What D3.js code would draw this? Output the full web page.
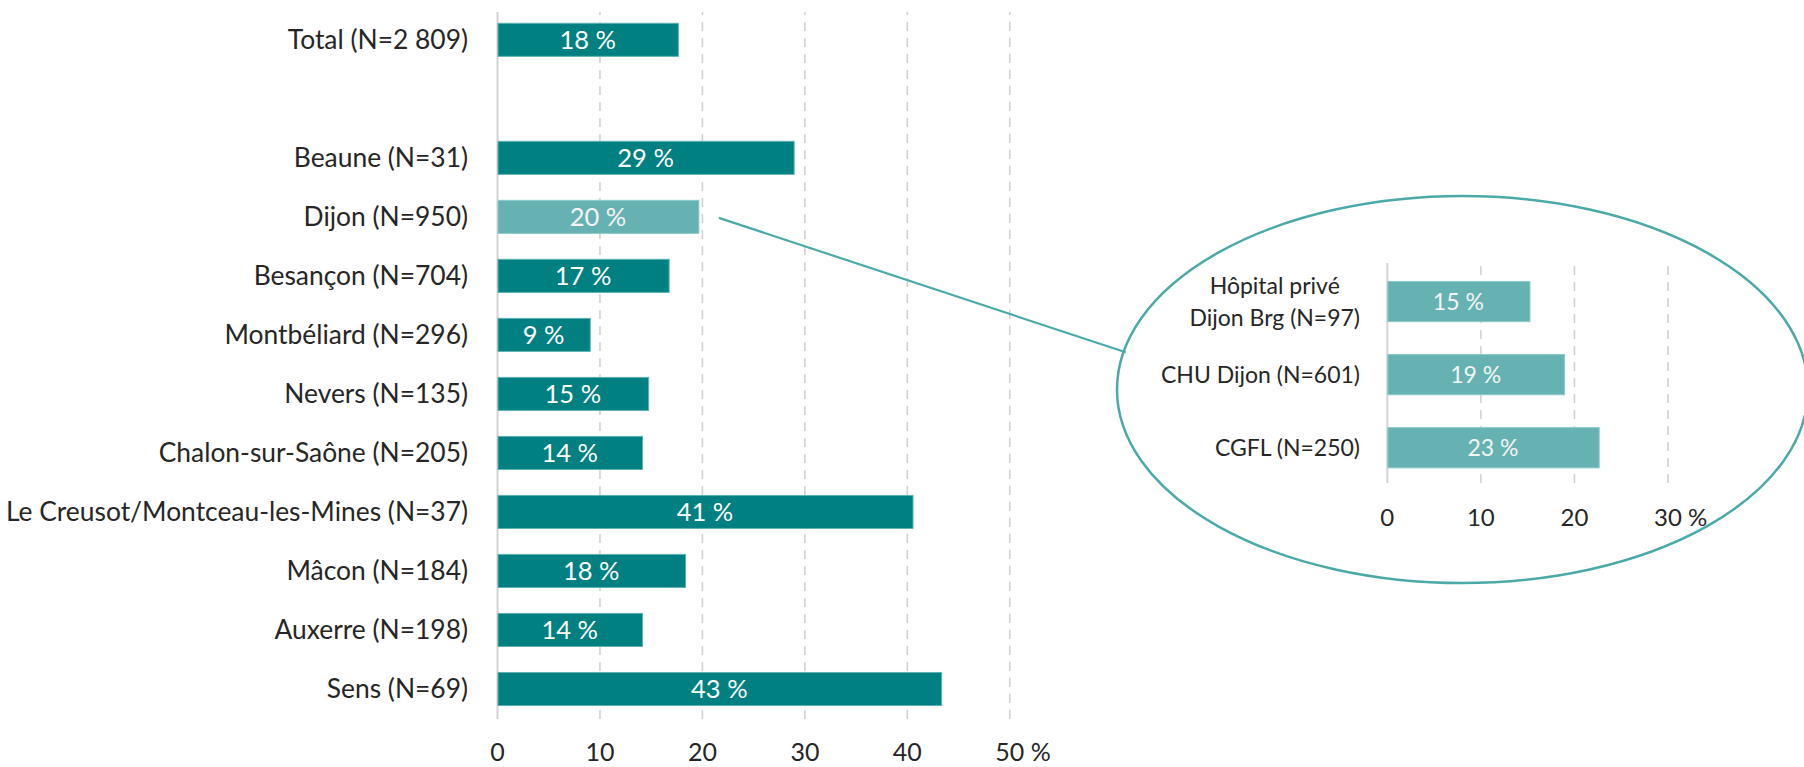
<!DOCTYPE html>
<html>
<head>
<meta charset="utf-8">
<script src="https://cdn.jsdelivr.net/npm/d3@7"></script>
<style>
  html, body { margin: 0; padding: 0; background: #ffffff; }
  svg { display: block; }
  text { font-family: Lato, "Open Sans", sans-serif; }
</style>
</head>
<body>
<svg id="chart" width="1804" height="767"></svg>
<script>
// ---------- data ----------
const categories = ["Total (N=2 809)", "", "Beaune (N=31)", "Dijon (N=950)", "Besançon (N=704)",
  "Montbéliard (N=296)", "Nevers (N=135)", "Chalon-sur-Saône (N=205)",
  "Le Creusot/Montceau-les-Mines (N=37)", "Mâcon (N=184)", "Auxerre (N=198)", "Sens (N=69)"];
const values = [17.7, null, 29.0, 19.7, 16.8, 9.1, 14.8, 14.2, 40.6, 18.4, 14.2, 43.4];
const valueLabels = [18, null, 29, 20, 17, 9, 15, 14, 41, 18, 14, 43];
const highlighted = "Dijon (N=950)";
const mainTicks = [0, 10, 20, 30, 40, 50];

const insetCategories = [["Hôpital privé", "Dijon Brg (N=97)"], ["CHU Dijon (N=601)"], ["CGFL (N=250)"]];
const insetValues = [15.3, 19.0, 22.7];
const insetLabels = [15, 19, 23];
const insetTicks = [0, 10, 20, 30];

// ---------- styles ----------
const DARK = "#008080";
const LIGHT = "#66b2b2";
const RING = "#4baaa8";
const GRID = "#cfcfcf";
const TXT = "#262626";

const svg = d3.select("#chart");

// ---------- main chart ----------
const x = d3.scaleLinear().domain([0, 50]).range([497, 1009.3]);
const y = d3.scaleBand().domain(d3.range(categories.length)).range([10.3, 718.5])
  .paddingInner(0.44).paddingOuter(0.22);

// grid
const gridMain = svg.append("g").attr("transform", "translate(0,719)")
  .call(d3.axisBottom(x).tickValues(mainTicks).tickSize(-707).tickFormat(""));
gridMain.select(".domain").remove();
gridMain.selectAll(".tick line")
  .attr("stroke", d => d === 0 ? "#d4d4d4" : GRID)
  .attr("stroke-width", d => d === 0 ? 2 : 1.5)
  .attr("stroke-dasharray", d => d === 0 ? null : "9,7");

// tick labels
const axMain = svg.append("g").attr("transform", "translate(0,761)")
  .call(d3.axisBottom(x).tickValues(mainTicks).tickSize(0).tickPadding(0).tickFormat(d3.format("d")));
axMain.select(".domain").remove();
axMain.selectAll(".tick text")
  .attr("dy", 0).attr("y", 0)
  .attr("font-size", 25).attr("fill", TXT).attr("font-family", "Lato, sans-serif");
{
  const last = axMain.selectAll(".tick text").filter(d => d === mainTicks[mainTicks.length - 1]);
  const w = last.node().getComputedTextLength();
  last.attr("text-anchor", "start").attr("x", -w / 2).text(last.text() + " %");
}

// bars
const rows = categories.map((c, i) => ({ c, i, v: values[i], l: valueLabels[i] })).filter(d => d.v !== null);
svg.append("g").selectAll("rect").data(rows).join("rect")
  .attr("x", x(0) + 1)
  .attr("y", d => y(d.i))
  .attr("width", d => x(d.v) - x(0) - 1)
  .attr("height", y.bandwidth())
  .attr("fill", d => d.c === highlighted ? LIGHT : DARK)
  .attr("stroke", d => d.c === highlighted ? "#8ccaca" : "#5fb0b0")
  .attr("stroke-width", 1);

svg.append("g").selectAll("text").data(rows).join("text")
  .attr("x", d => (x(0) + x(d.v)) / 2)
  .attr("y", d => y(d.i) + y.bandwidth() / 2)
  .attr("dy", "0.36em")
  .attr("text-anchor", "middle")
  .attr("font-size", 25.5)
  .attr("fill", d => d.c === highlighted ? "#f4f4f4" : "#ffffff")
  .text(d => d.l + " %");

// category labels
svg.append("g").selectAll("text").data(rows).join("text")
  .attr("x", 468)
  .attr("y", d => y(d.i) + y.bandwidth() / 2)
  .attr("dy", "0.36em")
  .attr("text-anchor", "end")
  .attr("font-size", 26.4)
  .attr("fill", TXT)
  .text(d => d.c);

// ---------- connector + ellipse ----------
const dIdx = categories.indexOf(highlighted);
const lineStart = [x(values[dIdx]) + 20, y(dIdx) + y.bandwidth() / 2 + 1];
svg.append("line")
  .attr("x1", lineStart[0]).attr("y1", lineStart[1])
  .attr("x2", 1125.7).attr("y2", 352.3)
  .attr("stroke", RING).attr("stroke-width", 2.2);

svg.append("ellipse")
  .attr("cx", 1462.5).attr("cy", 389.5).attr("rx", 345.5).attr("ry", 193.5)
  .attr("fill", "none").attr("stroke", RING).attr("stroke-width", 2.5);

// ---------- inset chart ----------
const xi = d3.scaleLinear().domain([0, 30]).range([1386.8, 1667.5]);
const yi = d3.scaleBand().domain(d3.range(insetCategories.length)).range([265, 484.3])
  .paddingInner(0.45).paddingOuter(0.225);

const gridIn = svg.append("g").attr("transform", "translate(0,483)")
  .call(d3.axisBottom(xi).tickValues(insetTicks).tickSize(-220).tickFormat(""));
gridIn.select(".domain").remove();
gridIn.selectAll(".tick line")
  .attr("stroke", d => d === 0 ? "#d4d4d4" : GRID)
  .attr("stroke-width", d => d === 0 ? 2 : 1.5)
  .attr("stroke-dasharray", d => d === 0 ? null : "9,7");

const axIn = svg.append("g").attr("transform", "translate(0,526)")
  .call(d3.axisBottom(xi).tickValues(insetTicks).tickSize(0).tickPadding(0).tickFormat(d3.format("d")));
axIn.select(".domain").remove();
axIn.selectAll(".tick text")
  .attr("dy", 0).attr("y", 0)
  .attr("font-size", 24).attr("fill", TXT).attr("font-family", "Lato, sans-serif");
{
  const last = axIn.selectAll(".tick text").filter(d => d === insetTicks[insetTicks.length - 1]);
  const w = last.node().getComputedTextLength();
  last.attr("text-anchor", "start").attr("x", -w / 2).text(last.text() + " %");
}

const irows = insetCategories.map((c, i) => ({ c, i, v: insetValues[i], l: insetLabels[i] }));
svg.append("g").selectAll("rect").data(irows).join("rect")
  .attr("x", xi(0) + 1)
  .attr("y", d => yi(d.i))
  .attr("width", d => xi(d.v) - xi(0) - 1)
  .attr("height", yi.bandwidth())
  .attr("fill", LIGHT)
  .attr("stroke", "#8ccaca").attr("stroke-width", 1);

svg.append("g").selectAll("text").data(irows).join("text")
  .attr("x", d => (xi(0) + xi(d.v)) / 2)
  .attr("y", d => yi(d.i) + yi.bandwidth() / 2)
  .attr("dy", "0.36em")
  .attr("text-anchor", "middle")
  .attr("font-size", 23)
  .attr("fill", "#f4f4f4")
  .text(d => d.l + " %");

const ilab = svg.append("g").selectAll("text").data(irows).join("text")
  .attr("font-size", 23)
  .attr("fill", TXT)
  .attr("text-anchor", "middle");
ilab.each(function(d) {
  const t = d3.select(this);
  const lh = 32;
  const cy = yi(d.i) + yi.bandwidth() / 2;
  d.c.forEach((line, k) => {
    t.append("tspan").attr("y", cy + (k - (d.c.length - 1) / 2) * lh).attr("dy", "0.36em").text(line);
  });
  // right-align the block on its widest line, lines centred on each other
  let wmax = 0;
  t.selectAll("tspan").each(function() { wmax = Math.max(wmax, this.getComputedTextLength()); });
  t.selectAll("tspan").attr("x", 1360 - wmax / 2);
});
</script>
</body>
</html>
